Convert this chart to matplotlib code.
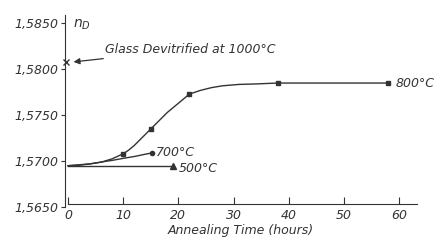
import matplotlib.pyplot as plt

# values (curves)
curve_800_t = [0, 2, 4, 6, 8, 10, 11, 12, 13, 14, 15, 16, 17, 18, 19, 20, 21, 22,
               24, 26, 28, 31, 34, 38, 45, 58]
curve_800_n = [1.5695, 1.5696, 1.5697, 1.56988, 1.57025, 1.5708, 1.5712, 1.5717,
               1.5723, 1.5729, 1.5735, 1.5741, 1.5747, 1.5753, 1.5758, 1.5763,
               1.5768, 1.5773, 1.5777, 1.5780, 1.5782, 1.57835, 1.5784, 1.5785,
               1.5785, 1.5785]
pts_800_t = [10, 15, 22, 38, 58]
pts_800_n = [1.5708, 1.5735, 1.5773, 1.5785, 1.5785]

curve_700_t = [0, 2, 4, 6, 8, 10, 12, 14, 15.3]
curve_700_n = [1.5695, 1.56955, 1.5697, 1.5699, 1.57008, 1.5703, 1.5705, 1.57075, 1.5709]

line_500_t = [0, 19.1]
line_500_n = [1.5695, 1.5695]

devit_t = -0.35
devit_n = 1.58076

x_ticks = [0, 10, 20, 30, 40, 50, 60]
y_ticks = [1.5650, 1.5700, 1.5750, 1.5800, 1.5850]
y_labels = ['1,5650', '1,5700', '1,5750', '1,5800', '1,5850']

ink = '#333333'
plt.rcParams['font.style'] = 'italic'
plt.rcParams['font.size'] = 9

fig = plt.figure(figsize=(4.37, 2.43), dpi=100)
ax = fig.add_axes([0.1487, 0.148, 0.955 - 0.1487, 0.938 - 0.148])

ax.plot(curve_800_t, curve_800_n, color=ink, lw=1.0)
ax.plot(pts_800_t, pts_800_n, 's', color=ink, ms=2.8)
ax.plot(curve_700_t, curve_700_n, color=ink, lw=1.0)
ax.plot(curve_700_t[-1], curve_700_n[-1], 'o', color=ink, ms=3)
ax.plot(line_500_t, line_500_n, color=ink, lw=1.0)
ax.plot(line_500_t[-1], line_500_n[-1], '^', color=ink, ms=4)
ax.plot(devit_t, devit_n, 'x', color=ink, ms=4, mew=1.0, clip_on=False)

ax.text(59.3, 1.5785, '800°C', color=ink, va='center', ha='left')
ax.text(15.9, 1.57095, '700°C', color=ink, va='center', ha='left')
ax.text(20.0, 1.5692, '500°C', color=ink, va='center', ha='left')
ax.text(0.9, 1.5848, '$n_D$', color=ink, va='center', ha='left', fontsize=10)
ax.annotate('Glass Devitrified at 1000°C', xy=(1.0, 1.5808), xytext=(6.7, 1.5822),
            color=ink, va='center', ha='left',
            arrowprops=dict(arrowstyle='-|>', color=ink, lw=0.9, mutation_scale=9,
                            shrinkA=2, shrinkB=0))

ax.set_xlim(-0.55, 63.3)
ax.set_ylim(1.5650, 1.5859)
ax.set_xticks(x_ticks)
ax.set_yticks(y_ticks)
ax.set_yticklabels(y_labels)
ax.set_xlabel('Annealing Time (hours)', color=ink, labelpad=1)

for s in ['top', 'right']:
    ax.spines[s].set_visible(False)
ax.spines['bottom'].set_position(('data', 1.56535))
ax.spines['bottom'].set_bounds(0, 63.3)
ax.spines['left'].set_color(ink)
ax.spines['bottom'].set_color(ink)
ax.tick_params(axis='x', direction='in', length=5, color=ink, labelcolor=ink, pad=4)
ax.tick_params(axis='y', direction='out', length=3, color=ink, labelcolor=ink, pad=2)

fig.savefig('out.png', dpi=100)
